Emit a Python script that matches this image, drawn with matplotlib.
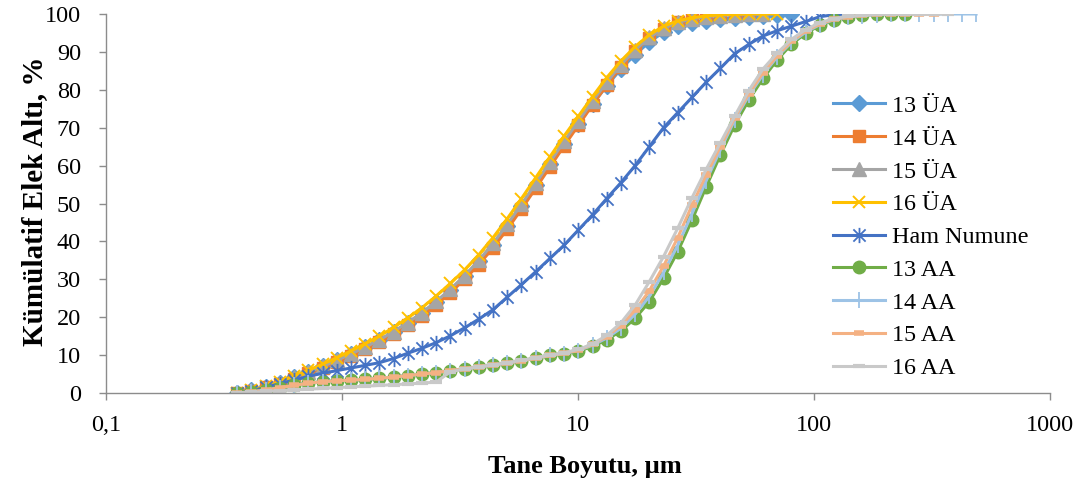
import matplotlib
matplotlib.use("Agg")
import matplotlib.pyplot as plt
from matplotlib.path import Path
from matplotlib.ticker import FixedLocator, FixedFormatter, NullLocator

# particle size classes (µm)
sizes = [0.360, 0.4135, 0.475, 0.5457, 0.6268, 0.720, 0.827, 0.950, 1.091, 1.254,
         1.440, 1.654, 1.900, 2.183, 2.507, 2.880, 3.308, 3.800, 4.365, 5.014,
         5.760, 6.617, 7.600, 8.730, 10.03, 11.52, 13.23, 15.20, 17.46, 20.06,
         23.04, 26.47, 30.40, 34.92, 40.11, 46.08, 52.93, 60.80, 69.84, 80.23,
         92.16, 105.9, 121.6, 139.7, 160.5, 184.3, 211.7, 243.2, 279.4, 320.9,
         368.6, 423.4, 486.4]

ua13 = [0, 0.7, 1.6, 2.7, 4.1, 5.5, 7.0, 8.6, 10.3, 12.1, 14.0, 16.1, 18.5, 21.1, 24.0,
        27.2, 30.8, 34.7, 39.1, 44.0, 49.3, 54.8, 60.3, 65.8, 71.0, 76.2, 81.0, 85.5,
        89.3, 92.6, 95.2, 96.8, 97.6, 98.2, 98.6, 99.0, 99.3, 99.6, 99.8, 100]
ua14 = [0, 0.6, 1.5, 2.5, 3.8, 5.2, 6.6, 8.1, 9.8, 11.5, 13.4, 15.5, 17.9, 20.4, 23.3,
        26.5, 30.0, 33.9, 38.3, 43.2, 48.5, 54.0, 59.6, 65.2, 70.6, 76.0, 81.2, 86.0,
        90.2, 93.6, 96.1, 97.8, 98.8, 99.4, 99.7, 99.9, 100]
ua15 = [0, 0.7, 1.6, 2.7, 4.1, 5.5, 7.0, 8.6, 10.3, 12.1, 14.0, 16.2, 18.6, 21.2, 24.2,
        27.4, 31.0, 35.0, 39.5, 44.5, 49.8, 55.3, 60.9, 66.4, 71.7, 77.0, 82.0, 86.6,
        90.5, 93.8, 96.2, 97.8, 98.7, 99.3, 99.6, 99.8, 99.9, 100]
ua16 = [0, 0.8, 1.8, 3.0, 4.5, 6.0, 7.6, 9.3, 11.1, 13.0, 15.0, 17.3, 19.8, 22.5, 25.6,
        28.9, 32.5, 36.5, 41.0, 46.0, 51.3, 56.8, 62.3, 67.8, 73.0, 78.2, 83.2, 87.6,
        91.4, 94.5, 96.8, 98.2, 99.0, 99.5, 99.8, 99.9, 100, 100, 100]
ham = [0, 0.6, 1.5, 2.5, 3.4, 4.4, 5.2, 5.9, 6.6, 7.3, 8.0, 9.1, 10.5, 11.8, 13.3,
       15.1, 17.2, 19.5, 22.0, 25.3, 28.6, 32.0, 35.5, 39.0, 43.0, 47.0, 51.3, 55.5,
       60.0, 65.0, 70.0, 74.0, 78.0, 82.0, 85.7, 89.5, 92.0, 94.2, 95.6, 96.8, 98.0,
       99.3, 99.8, 100]
aa13 = [0, 0.3, 0.8, 1.4, 2.0, 2.6, 3.0, 3.2, 3.4, 3.6, 3.9, 4.2, 4.6, 5.0, 5.4,
        5.9, 6.4, 6.9, 7.4, 7.9, 8.5, 9.2, 9.9, 10.3, 11.0, 12.3, 14.0, 16.4, 19.7,
        24.1, 30.3, 37.3, 45.6, 54.4, 62.8, 70.7, 77.3, 83.0, 87.9, 92.0, 94.9, 97.0,
        98.4, 99.2, 99.7, 99.9, 100, 100]
aa14 = [0, 0.3, 0.8, 1.4, 2.0, 2.6, 3.0, 3.2, 3.4, 3.6, 3.9, 4.2, 4.6, 5.0, 5.4,
        5.9, 6.4, 6.9, 7.4, 7.9, 8.5, 9.2, 9.9, 10.4, 11.2, 12.6, 14.5, 17.1, 20.8,
        25.5, 31.8, 39.0, 47.3, 56.0, 64.2, 72.0, 78.5, 84.0, 88.7, 92.5, 95.2, 97.2,
        98.5, 99.2, 99.6, 99.8, 99.9, 100, 100, 100, 100, 100, 100]
aa15 = [0, 0.3, 0.8, 1.4, 2.0, 2.6, 3.0, 3.2, 3.4, 3.6, 3.9, 4.2, 4.6, 5.0, 5.4,
        5.9, 6.4, 6.9, 7.4, 7.9, 8.5, 9.2, 9.9, 10.5, 11.3, 12.8, 14.9, 17.8, 21.8,
        27.0, 33.5, 41.0, 49.5, 57.5, 65.0, 72.5, 79.0, 84.5, 89.0, 92.8, 95.5, 97.4,
        98.6, 99.3, 99.7, 99.9, 100, 100, 100, 100]
aa16 = [0, 0.2, 0.4, 0.6, 0.8, 1.0, 1.2, 1.4, 1.6, 1.8, 2.0, 2.2, 2.4, 2.6, 2.9,
        5.6, 6.3, 6.9, 7.4, 8.0, 8.6, 9.3, 10.0, 10.6, 11.5, 12.9, 15.2, 18.5, 23.2,
        29.4, 36.0, 43.5, 51.5, 59.0, 66.0, 73.0, 79.8, 85.5, 89.7, 93.3, 95.9, 97.7,
        98.8, 99.4, 99.7, 99.9, 100, 100, 100, 100, 100]

labels = ["13 ÜA", "14 ÜA", "15 ÜA", "16 ÜA", "Ham Numune",
          "13 AA", "14 AA", "15 AA", "16 AA"]
xticks = [0.1, 1, 10, 100, 1000]
xticklabels = ["0,1", "1", "10", "100", "1000"]
yticks = list(range(0, 101, 10))

star = Path([(-1, -1), (1, 1), (-1, 1), (1, -1), (0, -1.25), (0, 1.25)],
            [Path.MOVETO, Path.LINETO, Path.MOVETO, Path.LINETO, Path.MOVETO, Path.LINETO])

styles = [
    dict(color="#5B9BD5", marker="D", ms=8),
    dict(color="#ED7D31", marker="s", ms=9),
    dict(color="#A5A5A5", marker="^", ms=10),
    dict(color="#FFC000", marker="x", ms=9, mew=1.4),
    dict(color="#4472C4", marker=star, ms=11, mew=1.3),
    dict(color="#70AD47", marker="o", ms=9),
    dict(color="#9DC3E6", marker="|", ms=12, mew=1.3),
    dict(color="#F4B183", marker="_", ms=7, mew=4),
    dict(color="#C9C9C9", marker="_", ms=9, mew=3),
]
series = [ua13, ua14, ua15, ua16, ham, aa13, aa14, aa15, aa16]

plt.rcParams['font.family'] = ['Liberation Serif', 'DejaVu Serif']

fig = plt.figure(figsize=(10.86, 4.86), dpi=100)
ax = fig.add_axes([106/1086, 93/486, (1050-106)/1086, (393-14)/486])

for vals, lab, st in zip(series, labels, styles):
    st = dict(st)
    c = st.pop("color")
    ax.plot(sizes[:len(vals)], vals, color=c, lw=2.2, mfc=c, mec=c, label=lab, **st)

ax.set_xscale("log")
ax.set_xlim(0.1, 1000)
ax.set_ylim(0, 100)
ax.xaxis.set_major_locator(FixedLocator(xticks))
ax.xaxis.set_major_formatter(FixedFormatter(xticklabels))
ax.xaxis.set_minor_locator(NullLocator())
ax.set_yticks(yticks)
for s in ["top", "right"]:
    ax.spines[s].set_visible(False)
for s in ["left", "bottom"]:
    ax.spines[s].set_color("#8C8C8C")
    ax.spines[s].set_linewidth(1.0)
ax.tick_params(axis="both", direction="out", length=5, width=1.0, color="#8C8C8C",
               labelsize=17.5)
ax.tick_params(axis="y", pad=13)
ax.tick_params(axis="x", pad=11)

fig.text(585/1086, 1 - 466/486, "Tane Boyutu, µm", fontsize=19, fontweight="bold",
         ha="center", va="center")
fig.text(35/1086, 1 - 201/486, "Kümülatif Elek Altı, %", fontsize=21, fontweight="bold",
         ha="center", va="center", rotation=90)

leg = ax.legend(loc="upper left", bbox_to_anchor=(833/1086, (486-95)/486),
                bbox_transform=fig.transFigure, frameon=False, fontsize=17.4,
                handlelength=2.15, handletextpad=0.3, labelspacing=0.45,
                borderpad=0, borderaxespad=0)

fig.savefig("out.png", dpi=100)
